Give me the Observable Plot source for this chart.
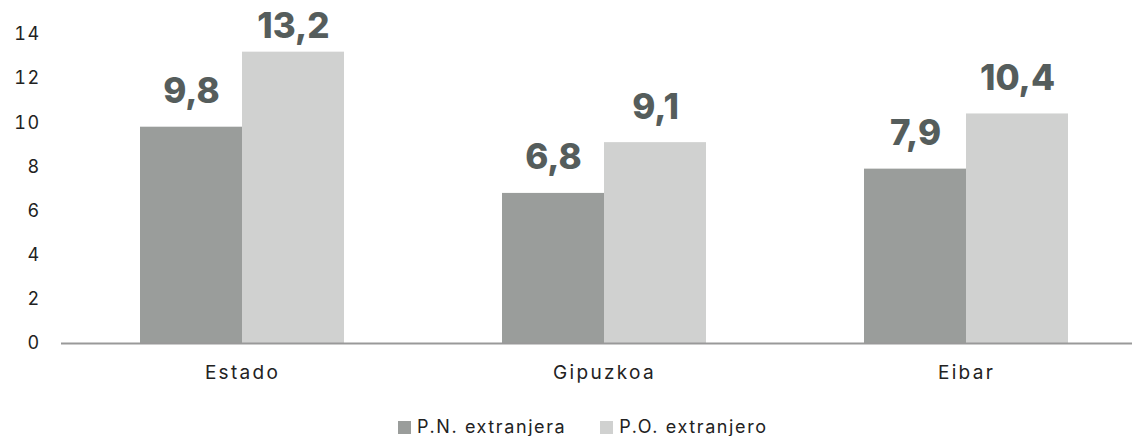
<!DOCTYPE html>
<html><head><meta charset="utf-8">
<script src="https://cdn.jsdelivr.net/npm/d3@7"></script>
<script src="https://cdn.jsdelivr.net/npm/@observablehq/plot@0.6"></script>
<style>
html,body{margin:0;padding:0;background:#fff;overflow:hidden;width:1132px;}
#chart{width:1132px;overflow:hidden;}
#chart svg{display:block;max-width:none !important;}
#chart [aria-label="y-axis tick label"]{letter-spacing:1.4px;}
#chart [aria-label="fx-axis tick label"]{letter-spacing:2.3px;}
#legend{display:flex;margin:16px 0 0 398px;font:18px Inter, sans-serif;letter-spacing:1.6px;color:#222;line-height:22px;}
.item{display:flex;align-items:center;margin-right:34px;}
.sw{width:13px;height:13px;margin-right:6px;}
</style></head><body><div id="chart"></div><div id="legend"></div>
<script>
const categories = ["Estado", "Gipuzkoa", "Eibar"];
const series = ["P.N. extranjera", "P.O. extranjero"];
const pnValues = [9.8, 6.8, 7.9];
const poValues = [13.2, 9.1, 10.4];
const yTicks = [0, 2, 4, 6, 8, 10, 12, 14];
const colors = ["#9a9d9b", "#d0d1d0"];

const data = categories.flatMap((c, i) => [
  {cat: c, series: series[0], value: pnValues[i]},
  {cat: c, series: series[1], value: poValues[i]}
]);
const fmt = v => v.toFixed(1).replace(".", ",");
const maxValue = d3.max(data, d => d.value);
const labelStyle = {fx: "cat", x: "series", y: "value", text: d => fmt(d.value), lineAnchor: "bottom", fontSize: 35, fontWeight: 800, fill: "#555d5c"};

const chart = Plot.plot({
  width: 1148, height: 400,
  marginLeft: 60, marginRight: 0, marginTop: 34, marginBottom: 57,
  fx: {domain: categories, padding: 0, label: null},
  x: {domain: series, paddingInner: 0, paddingOuter: 0.768, axis: null},
  y: {domain: [0, 14], ticks: yTicks, label: null},
  color: {domain: series, range: colors},
  style: {fontFamily: "Inter, sans-serif", background: "#fff", maxWidth: "none"},
  marks: [
    Plot.barY(data, {fx: "cat", x: "series", y: "value", fill: "series"}),
    Plot.ruleY([0], {stroke: "#999", strokeWidth: 2}),
    Plot.axisY({ticks: yTicks, tickSize: 0, tickPadding: 21, line: true, stroke: "#999", strokeWidth: 2, fill: "#222", fontSize: 18, label: null}),
    Plot.axisFx({anchor: "bottom", tickSize: 0, tickPadding: 22, fontSize: 19, fill: "#222", label: null}),
    // labels sit above their bars; the tallest one is nudged down to stay inside the frame
    Plot.text(data.filter(d => d.value < maxValue), {...labelStyle, dy: -24}),
    Plot.text(data.filter(d => d.value === maxValue), {...labelStyle, dy: -14})
  ]
});
document.getElementById("chart").append(chart);

const legend = document.getElementById("legend");
series.forEach((s, i) => {
  const item = document.createElement("div");
  item.className = "item";
  const sw = document.createElement("span");
  sw.className = "sw";
  sw.style.background = colors[i];
  const lab = document.createElement("span");
  lab.textContent = s;
  item.append(sw, lab);
  legend.append(item);
});
</script></body></html>
